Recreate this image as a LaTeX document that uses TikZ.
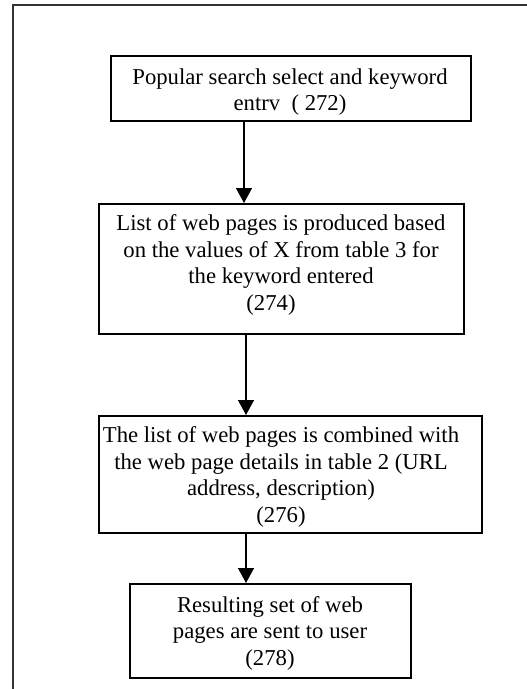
\documentclass[tikz,border=0pt]{standalone}
\usepackage{fontspec}
\setmainfont{Liberation Serif}
\usetikzlibrary{arrows.meta}
\begin{document}
\begin{tikzpicture}[x=1pt,y=-1pt,
  stepbox/.style={draw=black,line width=1.8pt,inner sep=0pt,anchor=north west},
  steptext/.style={align=center,inner sep=0pt,font=\fontsize{22.7}{26.5}\selectfont},
  arr/.style={line width=1.4pt,-{Triangle[width=16pt,length=15pt]}},
  frame/.style={line width=2pt,draw=black!80}]
\useasboundingbox (0,0) rectangle (527,689);
\draw[frame] (527,5) -- (13,5) -- (13,689);
\node[stepbox,minimum width=360pt,minimum height=65pt] (b1) at (110,55) {};
\node[stepbox,minimum width=365pt,minimum height=130pt] (b2) at (98,203) {};
\node[stepbox,minimum width=383pt,minimum height=117pt] (b3) at (98,415) {};
\node[stepbox,minimum width=281pt,minimum height=94pt] (b4) at (129,583) {};
\node[steptext] (t1) at (290,92) {Popular search select and keyword\\entrv\ \ ( 272)};
\node[steptext] (t2) at (281,265) {List of web pages is produced based\\on the values of X from table 3 for\\the keyword entered\\\hspace*{-20pt}(274)};
\node[steptext] (t3) at (281,477) {The list of web pages is combined with\\the web page details in table 2 (URL\\address, description)\\(276)};
\node[steptext] (t4) at (270,633) {Resulting set of web\\pages are sent to user\\(278)};
\coordinate (ax1) at (244,0);
\coordinate (ax2) at (246,0);
\draw[arr] (b1.south -| ax1) -- (b2.north -| ax1);
\draw[arr] (b2.south -| ax2) -- (b3.north -| ax2);
\draw[arr] (b3.south -| ax2) -- (b4.north -| ax2);
\end{tikzpicture}
\end{document}
